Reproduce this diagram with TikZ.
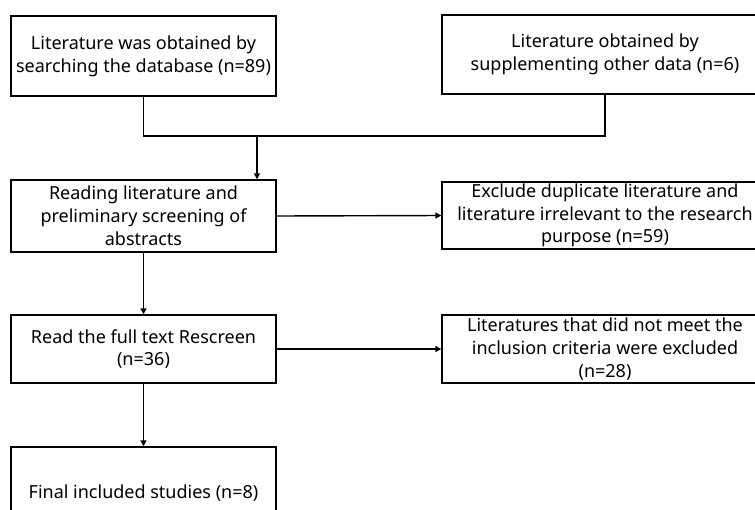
\documentclass[tikz,border=0pt]{standalone}
\usepackage{fontspec}
\setmainfont{Noto Sans}
\usetikzlibrary{arrows.meta}
\begin{document}
\begin{tikzpicture}[x=1pt,y=-1pt,
  box/.style={draw, line width=1.4pt, align=center, inner sep=0pt,
    font=\fontsize{18}{22.8}\selectfont},
  conn/.style={line width=1.4pt},
  arr/.style={conn, -{Triangle[length=6pt,width=6pt]}}]
\useasboundingbox (0,0) rectangle (755,509);
\clip (0,0) rectangle (755,509);
\node[box, minimum width=265pt, minimum height=80pt] (a) at (143.5,56)
  {Literature was obtained by\\searching the database (n=89)};
\node[box, minimum width=326pt, minimum height=79pt] (b) at (605,54.5)
  {Literature obtained by\\supplementing other data (n=6)};
\node[box, minimum width=265pt, minimum height=72pt] (c) at (143.5,216)
  {Reading literature and\\preliminary screening of\\abstracts};
\node[box, minimum width=326pt, minimum height=67pt] (d) at (605,215.5)
  {Exclude duplicate literature and\\literature irrelevant to the research\\purpose (n=59)};
\node[box, minimum width=265pt, minimum height=68pt] (e) at (143.5,349)
  {Read the full text Rescreen\\(n=36)};
\node[box, minimum width=326pt, minimum height=68pt] (f) at (605,349)
  {Literatures that did not meet the\\inclusion criteria were excluded\\(n=28)};
\node[box, minimum width=265pt, minimum height=93pt] (g) at (143.5,493.5)
  {Final included studies (n=8)};
\coordinate (j) at (257,136);
\draw[conn] (a.south) -- (a.south |- j) -- (b.south |- j) -- (b.south);
\draw[arr] (j) -- (j |- c.north);
\draw[arr] (c.east) -- (d.west);
\draw[arr] (c.south) -- (e.north);
\draw[arr] (e.east) -- (f.west);
\draw[arr] (e.south) -- (g.north);
\end{tikzpicture}
\end{document}
